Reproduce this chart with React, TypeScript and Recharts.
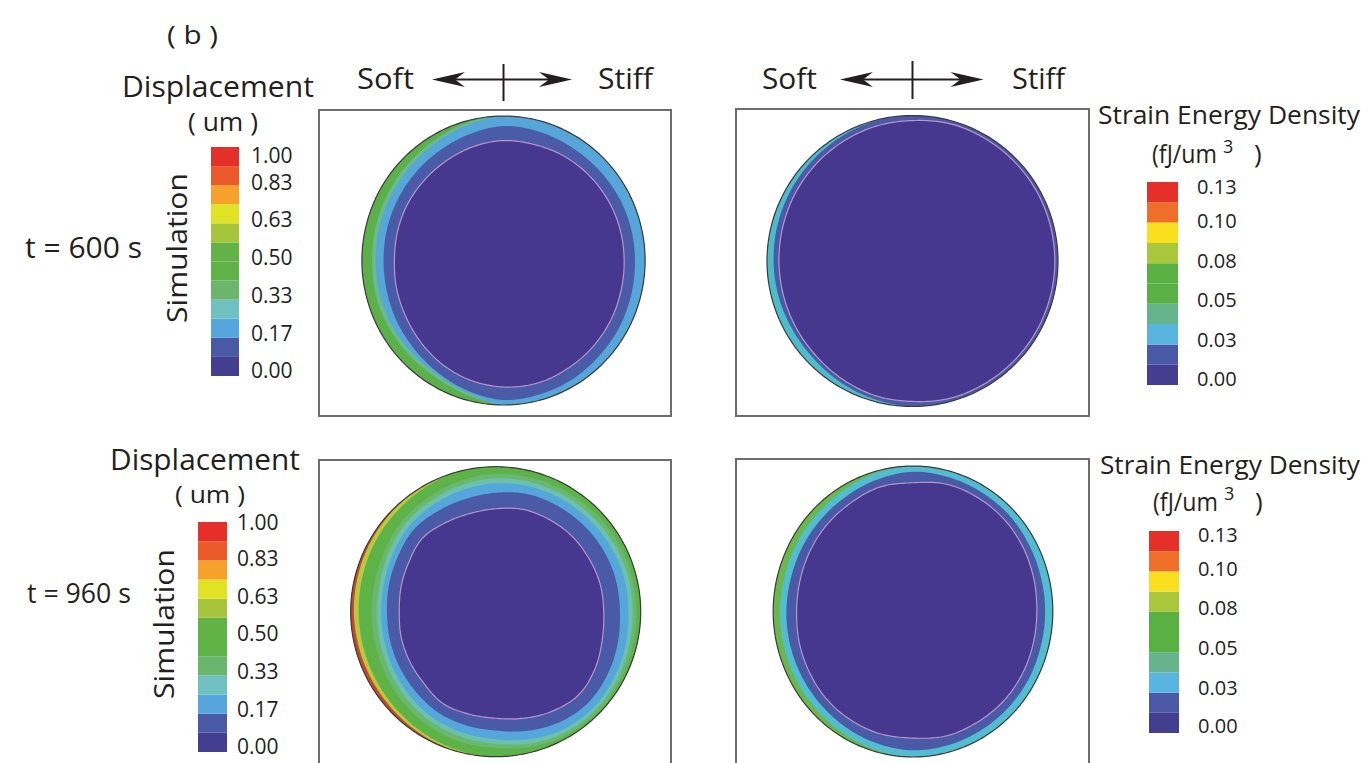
import React from 'react';
import { RadarChart, Radar, PolarAngleAxis, PolarRadiusAxis, BarChart, Bar, XAxis, YAxis } from 'recharts';

const FONT = "'Open Sans', 'Noto Sans', sans-serif";
const INK = '#231f20';

// contour sample angles (degrees clockwise from top)
const angles = [0, 15, 30, 45, 60, 75, 90, 105, 120, 135, 150, 165, 180, 195, 210, 225, 240, 255, 270, 285, 300, 315, 330, 345];

// ---- t = 600 s, displacement (radius as fraction of cell radius) ----
const tlOuter = [1, 0.999, 0.995, 0.99, 0.985, 0.981, 0.98, 0.981, 0.985, 0.99, 0.995, 0.999, 1, 0.999, 0.995, 0.99, 0.985, 0.981, 0.98, 0.981, 0.985, 0.99, 0.995, 0.999];
const tlTeal = [1, 1, 1, 1, 1, 1, 1, 1, 1, 1, 1, 1, 1, 0.965, 0.935, 0.925, 0.92, 0.915, 0.91, 0.915, 0.925, 0.94, 0.96, 0.985];
const tlLightBlue = [1, 1, 1, 1, 1, 1, 1, 1, 1, 1, 1, 1, 1, 0.95, 0.915, 0.9, 0.893, 0.888, 0.885, 0.89, 0.9, 0.915, 0.94, 0.97];
const tlBlue = [0.93, 0.925, 0.915, 0.91, 0.91, 0.91, 0.91, 0.915, 0.925, 0.935, 0.95, 0.96, 0.965, 0.935, 0.9, 0.87, 0.85, 0.835, 0.83, 0.835, 0.845, 0.86, 0.88, 0.905];
const tlCore = [0.83, 0.83, 0.835, 0.835, 0.835, 0.835, 0.835, 0.84, 0.85, 0.86, 0.87, 0.88, 0.875, 0.86, 0.835, 0.805, 0.78, 0.765, 0.755, 0.76, 0.77, 0.78, 0.795, 0.815];

// ---- t = 600 s, strain energy density ----
const trOuter = [1, 1, 1, 1, 1, 1, 1, 1, 1, 1, 1, 1, 1, 1, 1, 1, 1, 1, 1, 1, 1, 1, 1, 1];
const trBlue = [1, 1, 1, 1, 1, 1, 1, 1, 1, 1, 1, 1, 1, 0.985, 0.97, 0.955, 0.95, 0.952, 0.955, 0.96, 0.967, 0.975, 0.985, 0.995];
const trCore = [0.965, 0.978, 0.978, 0.978, 0.978, 0.978, 0.978, 0.978, 0.978, 0.978, 0.978, 0.978, 0.965, 0.96, 0.945, 0.93, 0.922, 0.918, 0.918, 0.922, 0.93, 0.94, 0.95, 0.96];

// ---- t = 960 s, displacement ----
const blOuter = [1, 1, 1, 1, 1, 1, 1, 1, 1, 1, 1, 1, 1, 1, 1, 1, 1, 1, 1, 1, 1, 1, 1, 1];
const blYellow = [1, 1, 1, 1, 1, 1, 1, 1, 1, 1, 1, 1, 1, 1, 0.99, 0.98, 0.975, 0.975, 0.978, 0.982, 0.988, 0.994, 1, 1];
const blGreen = [1, 1, 1, 1, 1, 1, 1, 1, 1, 1, 1, 1, 1, 0.99, 0.975, 0.96, 0.95, 0.945, 0.945, 0.95, 0.96, 0.97, 0.985, 1];
const blMidGreen = [0.95, 0.955, 0.96, 0.965, 0.97, 0.97, 0.97, 0.975, 0.98, 0.985, 0.98, 0.965, 0.94, 0.93, 0.915, 0.895, 0.875, 0.86, 0.855, 0.86, 0.875, 0.9, 0.915, 0.935];
const blTeal = [0.92, 0.925, 0.93, 0.935, 0.94, 0.945, 0.945, 0.95, 0.96, 0.965, 0.96, 0.94, 0.91, 0.895, 0.88, 0.86, 0.84, 0.825, 0.82, 0.825, 0.845, 0.87, 0.885, 0.905];
const blLightBlue = [0.885, 0.895, 0.9, 0.905, 0.91, 0.915, 0.915, 0.925, 0.935, 0.945, 0.935, 0.91, 0.88, 0.865, 0.85, 0.83, 0.81, 0.795, 0.79, 0.795, 0.815, 0.84, 0.855, 0.87];
const blBlue = [0.82, 0.84, 0.845, 0.85, 0.855, 0.857, 0.857, 0.87, 0.885, 0.895, 0.88, 0.85, 0.82, 0.81, 0.8, 0.78, 0.765, 0.755, 0.75, 0.76, 0.775, 0.8, 0.8, 0.805];
const blCore = [0.71, 0.73, 0.735, 0.74, 0.74, 0.745, 0.745, 0.76, 0.79, 0.81, 0.79, 0.76, 0.735, 0.73, 0.73, 0.7, 0.685, 0.675, 0.665, 0.675, 0.69, 0.715, 0.705, 0.7];

// ---- t = 960 s, strain energy density ----
const brOuter = [1, 0.997, 0.99, 0.98, 0.97, 0.963, 0.961, 0.963, 0.97, 0.98, 0.99, 0.997, 1, 0.997, 0.99, 0.98, 0.97, 0.963, 0.961, 0.963, 0.97, 0.98, 0.99, 0.997];
const brCyan = [1, 1, 1, 1, 1, 1, 1, 1, 1, 1, 1, 1, 1, 0.985, 0.965, 0.945, 0.93, 0.92, 0.915, 0.915, 0.925, 0.94, 0.96, 0.985];
const brBlue = [0.96, 0.955, 0.945, 0.935, 0.92, 0.91, 0.908, 0.91, 0.92, 0.93, 0.94, 0.95, 0.954, 0.94, 0.92, 0.9, 0.885, 0.875, 0.87, 0.87, 0.88, 0.895, 0.915, 0.94];
const brCore = [0.885, 0.905, 0.9, 0.89, 0.875, 0.86, 0.851, 0.855, 0.865, 0.875, 0.88, 0.885, 0.87, 0.87, 0.86, 0.845, 0.825, 0.81, 0.8, 0.805, 0.82, 0.84, 0.86, 0.885];

// ---- colour bars (bottom band first) ----
const dispColors = ['#433e90', '#4a59a6', '#55a6dc', '#70c0bf', '#6ab66d', '#5fb246', '#63b247', '#a7c53b', '#e0e224', '#f6a22a', '#ec5a2b', '#e5302a'];
const dispTickLabels = ['0.00', '0.17', '0.33', '0.50', '0.63', '0.83', '1.00'];
const dispTickPosTop = [0.26, 2.24, 4.22, 6.2, 8.18, 10.13, 11.53];
const dispTickPosBottom = [0.3, 2.22, 4.2, 6.2, 8.12, 10.1, 11.95];

const sedColors = ['#433e90', '#4a59a6', '#57b5e0', '#66b48c', '#5ab043', '#5ab043', '#a8c73b', '#f9df1d', '#ef6f2a', '#e5302a'];
const sedTickLabels = ['0.00', '0.03', '0.05', '0.08', '0.10', '0.13'];
const sedTickPosTop = [0.28, 2.21, 4.18, 6.11, 8.07, 9.75];
const sedTickPosBottom = [0.33, 2.22, 4.19, 6.17, 8.14, 9.82];

const CORE = '#46388f';
const CORE_LINE = '#b995c9';

function cr(p0: number, p1: number, p2: number, p3: number, t: number) {
  const t2 = t * t;
  const t3 = t2 * t;
  return 0.5 * (2 * p1 + (-p0 + p2) * t + (2 * p0 - 5 * p1 + 4 * p2 - p3) * t2 + (-p0 + 3 * p1 - 3 * p2 + p3) * t3);
}

const SAMPLES = 12;

function makeShape(fill: string, outer: number[], stroke?: string, strokeWidth?: number) {
  return (props: any) => {
    const pts = props.points || [];
    const n = pts.length;
    if (!n) return <g />;
    const rad = Math.PI / 180;
    const p0 = pts[0];
    const cx = typeof p0.cx === 'number' ? p0.cx : p0.x - p0.radius * Math.cos(p0.angle * rad);
    const cy = typeof p0.cy === 'number' ? p0.cy : p0.y + p0.radius * Math.sin(p0.angle * rad);
    let k = 0;
    for (const p of pts) {
      if (p.value > 0) { k = p.radius / p.value; break; }
    }
    const vals = pts.map((p: any) => p.value as number);
    const d: string[] = [];
    for (let i = 0; i < n; i++) {
      const a0 = pts[i].angle;
      let diff = pts[(i + 1) % n].angle - a0;
      while (diff > 0) diff -= 360;
      while (diff <= -360) diff += 360;
      const im = (i - 1 + n) % n, i1 = (i + 1) % n, i2 = (i + 2) % n;
      for (let s = 0; s < SAMPLES; s++) {
        const t = s / SAMPLES;
        const v = cr(vals[im], vals[i], vals[i1], vals[i2], t);
        const o = cr(outer[im], outer[i], outer[i1], outer[i2], t);
        const r = Math.max(0, Math.min(v, o)) * k;
        const a = (a0 + diff * t) * rad;
        const x = cx + r * Math.cos(a);
        const y = cy - r * Math.sin(a);
        d.push(`${i === 0 && s === 0 ? 'M' : 'L'}${x.toFixed(2)},${y.toFixed(2)}`);
      }
    }
    d.push('Z');
    return <path d={d.join(' ')} fill={fill} stroke={stroke || 'none'} strokeWidth={strokeWidth || 0} />;
  };
}

type Layer = { key: string; values: number[]; color: string; stroke?: string; strokeWidth?: number };

function Panel(props: { left: number; top: number; width: number; height: number; cx: number; cy: number; radius: number; outer: number[]; layers: Layer[] }) {
  const { left, top, width, height, cx, cy, radius, outer, layers } = props;
  const data = angles.map((a, i) => {
    const row: any = { angle: a, outline: outer[i] };
    layers.forEach((l) => { row[l.key] = l.values[i]; });
    return row;
  });
  return (
    <div style={{ position: 'absolute', left, top, width, height }}>
      <RadarChart width={width} height={height} cx={cx} cy={cy} outerRadius={radius} innerRadius={0} data={data} margin={{ top: 0, right: 0, bottom: 0, left: 0 }}>
        <PolarAngleAxis dataKey="angle" tick={false} axisLine={false} tickLine={false} />
        <PolarRadiusAxis type="number" domain={[0, 1]} tick={false} axisLine={false} />
        {layers.map((l) => (
          <Radar key={l.key} dataKey={l.key} isAnimationActive={false} fill={l.color} stroke="none" dot={false}
            shape={makeShape(l.color, outer, l.stroke, l.strokeWidth)} />
        ))}
        <Radar dataKey="outline" isAnimationActive={false} fill="none" stroke="none" dot={false}
          shape={makeShape('none', outer, '#3a3a3a', 1.2)} />
      </RadarChart>
      <div style={{ position: 'absolute', left: 0, top: 0, width, height, border: '2px solid #6d6d6d', boxSizing: 'border-box' }} />
    </div>
  );
}

function ColorBar(props: { left: number; top: number; barWidth: number; height: number; colors: string[]; tickPos: number[]; tickLabels: string[]; gap: number; fontSize: number }) {
  const { left, top, barWidth, height, colors, tickPos, tickLabels, gap, fontSize } = props;
  const row: any = { name: 'c' };
  colors.forEach((c, i) => { row['b' + i] = 1; });
  const labelW = 70;
  const pad = 16;
  return (
    <div style={{ position: 'absolute', left, top: top - pad }}>
      <BarChart width={barWidth + labelW} height={height + 2 * pad} data={[row]} margin={{ top: pad, right: 0, bottom: pad, left: 0 }} barCategoryGap={0} barGap={0}>
        <XAxis dataKey="name" hide />
        <YAxis orientation="right" type="number" domain={[0, colors.length]} ticks={tickPos} interval={0}
          tickFormatter={(v: any, i: number) => tickLabels[i]} axisLine={false} tickLine={false} tickSize={0} tickMargin={gap}
          width={labelW} allowDataOverflow tick={{ fontSize, fontFamily: FONT, fill: INK }} />
        {colors.map((c, i) => (
          <Bar key={i} dataKey={'b' + i} stackId="s" fill={c} isAnimationActive={false} />
        ))}
      </BarChart>
    </div>
  );
}

function ArrowHead({ tx, y, dir }: { tx: number; y: number; dir: number }) {
  // dir = +1 : tip on the left, -1 : tip on the right
  const pts = [
    [tx, y],
    [tx + dir * 33, y - 7.5],
    [tx + dir * 23, y],
    [tx + dir * 33, y + 7.5],
  ].map((p) => p.join(',')).join(' ');
  return <polygon points={pts} fill={INK} />;
}

function DoubleArrow({ x1, x2, xc, y, yt, yb }: { x1: number; x2: number; xc: number; y: number; yt: number; yb: number }) {
  return (
    <g>
      <line x1={x1 + 20} y1={y} x2={x2 - 20} y2={y} stroke={INK} strokeWidth={2} />
      <line x1={xc} y1={yt} x2={xc} y2={yb} stroke={INK} strokeWidth={2} />
      <ArrowHead tx={x1} y={y} dir={1} />
      <ArrowHead tx={x2} y={y} dir={-1} />
    </g>
  );
}

function T(props: { x: number; y: number; size: number; len?: number; children: any; anchor?: string; transform?: string }) {
  const { x, y, size, len, children, anchor, transform } = props;
  return (
    <text x={x} y={y} fontSize={size} textAnchor={anchor || 'start'} transform={transform}
      {...(len ? { textLength: len, lengthAdjust: 'spacingAndGlyphs' } : {})}>{children}</text>
  );
}

export default function App() {
  return (
    <div style={{ position: 'absolute', left: 0, top: 0, width: 1368, height: 763, overflow: 'hidden', background: '#fff', fontFamily: FONT }}>
      <Panel left={318} top={109} width={354} height={308} cx={185.5} cy={151.5} radius={144.5} outer={tlOuter}
        layers={[
          { key: 'outer', values: tlOuter, color: '#5cb04a' },
          { key: 'teal', values: tlTeal, color: '#69ba8e' },
          { key: 'lblue', values: tlLightBlue, color: '#56a6d9' },
          { key: 'blue', values: tlBlue, color: '#4a5ba7' },
          { key: 'core', values: tlCore, color: CORE, stroke: CORE_LINE, strokeWidth: 1.2 },
        ]} />
      <Panel left={735} top={108} width={355} height={309} cx={177.5} cy={153} radius={145.5} outer={trOuter}
        layers={[
          { key: 'outer', values: trOuter, color: '#4cbccb' },
          { key: 'blue', values: trBlue, color: '#4a5aa8' },
          { key: 'core', values: trCore, color: CORE, stroke: CORE_LINE, strokeWidth: 1.2 },
        ]} />
      <Panel left={318} top={459} width={354} height={320} cx={177.7} cy={152.7} radius={145} outer={blOuter}
        layers={[
          { key: 'outer', values: blOuter, color: '#c1492c' },
          { key: 'yellow', values: blYellow, color: '#b9c83c' },
          { key: 'green', values: blGreen, color: '#5db347' },
          { key: 'mgreen', values: blMidGreen, color: '#6ab86f' },
          { key: 'teal', values: blTeal, color: '#6cc0b0' },
          { key: 'lblue', values: blLightBlue, color: '#55a6db' },
          { key: 'blue', values: blBlue, color: '#4a5aa6' },
          { key: 'core', values: blCore, color: CORE, stroke: CORE_LINE, strokeWidth: 1.2 },
        ]} />
      <Panel left={735} top={458} width={355} height={320} cx={178} cy={153.5} radius={145.5} outer={brOuter}
        layers={[
          { key: 'outer', values: brOuter, color: '#6ab84c' },
          { key: 'cyan', values: brCyan, color: '#52bcd0' },
          { key: 'blue', values: brBlue, color: '#4a5aa7' },
          { key: 'core', values: brCore, color: CORE, stroke: CORE_LINE, strokeWidth: 1.2 },
        ]} />

      <ColorBar left={211} top={147} barWidth={28} height={229} colors={dispColors} tickPos={dispTickPosTop} tickLabels={dispTickLabels} gap={12} fontSize={21} />
      <ColorBar left={198} top={522} barWidth={29} height={230} colors={dispColors} tickPos={dispTickPosBottom} tickLabels={dispTickLabels} gap={10} fontSize={21} />
      <ColorBar left={1147} top={182} barWidth={31} height={203} colors={sedColors} tickPos={sedTickPosTop} tickLabels={sedTickLabels} gap={19} fontSize={20} />
      <ColorBar left={1149} top={531} barWidth={30} height={202} colors={sedColors} tickPos={sedTickPosBottom} tickLabels={sedTickLabels} gap={19} fontSize={20} />

      <svg width={1368} height={763} style={{ position: 'absolute', left: 0, top: 0, pointerEvents: 'none' }}>
        <g fontFamily={FONT} fill={INK}>
          <T x={167} y={44} size={25} len={51}>( b )</T>

          <T x={122} y={97} size={29} len={192}>Displacement</T>
          <T x={188} y={131} size={25} len={70}>( um )</T>
          <T x={0} y={0} size={28} len={150} anchor="middle" transform="translate(187,248) rotate(-90)">Simulation</T>
          <T x={25} y={258} size={30} len={117}>t = 600 s</T>

          <T x={357} y={89} size={29} len={57}>Soft</T>
          <T x={598} y={89} size={29} len={55}>Stiff</T>
          <T x={762} y={89} size={29} len={55}>Soft</T>
          <T x={1012} y={89} size={29} len={53}>Stiff</T>

          <T x={1098} y={124} size={26} len={262}>Strain Energy Density</T>
          <T x={1152} y={163} size={26} len={65}>(fJ/um</T>
          <T x={1223} y={153} size={18}>3</T>
          <T x={1254} y={163} size={26}>)</T>

          <T x={110} y={470} size={29} len={190}>Displacement</T>
          <T x={175} y={503} size={24} len={70}>( um )</T>
          <T x={0} y={0} size={28} len={150} anchor="middle" transform="translate(174,624) rotate(-90)">Simulation</T>
          <T x={27} y={603} size={28} len={104}>t = 960 s</T>

          <T x={1100} y={474} size={26} len={260}>Strain Energy Density</T>
          <T x={1153} y={511} size={26} len={65}>(fJ/um</T>
          <T x={1224} y={500} size={18}>3</T>
          <T x={1255} y={511} size={26}>)</T>
        </g>
        <DoubleArrow x1={432} x2={572} xc={503.5} y={79.5} yt={64} yb={101} />
        <DoubleArrow x1={840} x2={983.5} xc={912.5} y={79.5} yt={61} yb={99} />
      </svg>
    </div>
  );
}
